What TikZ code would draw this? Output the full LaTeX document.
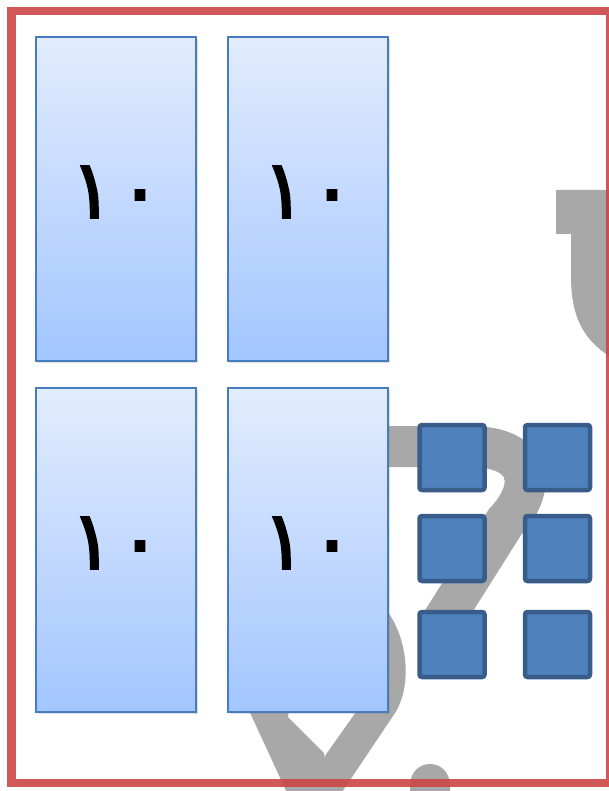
\documentclass[tikz,border=0pt]{standalone}
\usepackage{fontspec}
\newfontfamily\arabicfont[Script=Arabic,FakeBold=2.2]{DejaVu Sans}
\usetikzlibrary{shadows}
\definecolor{framered}{RGB}{204,70,70}
\definecolor{wmgray}{RGB}{168,168,168}
\definecolor{cardtop}{RGB}{226,236,253}
\definecolor{cardbot}{RGB}{163,198,255}
\definecolor{cardedge}{RGB}{72,124,192}
\definecolor{sqfill}{RGB}{79,129,189}
\definecolor{sqedge}{RGB}{56,93,138}
\begin{document}
\begin{tikzpicture}[x=1pt,y=-1pt,
  card/.style={draw=cardedge, line width=1.3pt, top color=cardtop, bottom color=cardbot,
    minimum width=160pt, minimum height=324pt, inner sep=0pt, text depth=14pt,
    drop shadow={shadow xshift=2pt, shadow yshift=-2pt, opacity=0.25},
    font=\arabicfont\fontsize{82}{84}\selectfont},
  unit/.style={draw=sqedge, fill=sqfill, line width=4.5pt, rounded corners=2.5pt,
    minimum size=65pt, inner sep=0pt},
  wm/.style={fill=wmgray},
  wmline/.style={draw=wmgray, line width=41pt, line join=round},
  frame/.style={draw=framered, line width=8.5pt, opacity=0.9}
  ]
\useasboundingbox (0,0) rectangle (609,791);
\fill[white] (0,0) rectangle (609,791);
% watermark shapes
\path[wm] (556,190) -- (615,190) -- (615,362) -- (609,356) .. controls (585,340) and (572,320) .. (571,280) -- (571,234) -- (556,234) -- cycle;
\path[wmline] (370,446.5) -- (470,446.5) .. controls (530,446.5) and (540,485) .. (505,522) -- (440,625);
\path[wm] (385,608) .. controls (410,640) and (412,690) .. (393,716) -- (340,795) -- (300,795) -- (327,753) -- (356,712) -- (360,650) -- cycle;
\path[wm] (245,700) -- (252,717) -- (288,795) -- (330,795) -- (324,753) -- (288,717) -- (290,700) -- cycle;
\path[wm] (410,800) -- (410,785) .. controls (411,757) and (449,757) .. (450,785) -- (450,800) -- cycle;
% frame
\draw[frame] (11.5,11) rectangle (610,783);
% cards
\node[card] (c1) at (116,199) {١\kern4pt٠};
\node[card] (c2) at (308,199) {١\kern4pt٠};
\node[card] (c3) at (116,550) {١\kern4pt٠};
\node[card] (c4) at (308,550) {١\kern4pt٠};
% unit squares
\node[unit] (s11) at (452,457.5) {};
\node[unit] (s12) at (557.5,457.5) {};
\node[unit] (s21) at (452,548.5) {};
\node[unit] (s22) at (557.5,548.5) {};
\node[unit] (s31) at (452,644.5) {};
\node[unit] (s32) at (557.5,644.5) {};
\end{tikzpicture}
\end{document}
